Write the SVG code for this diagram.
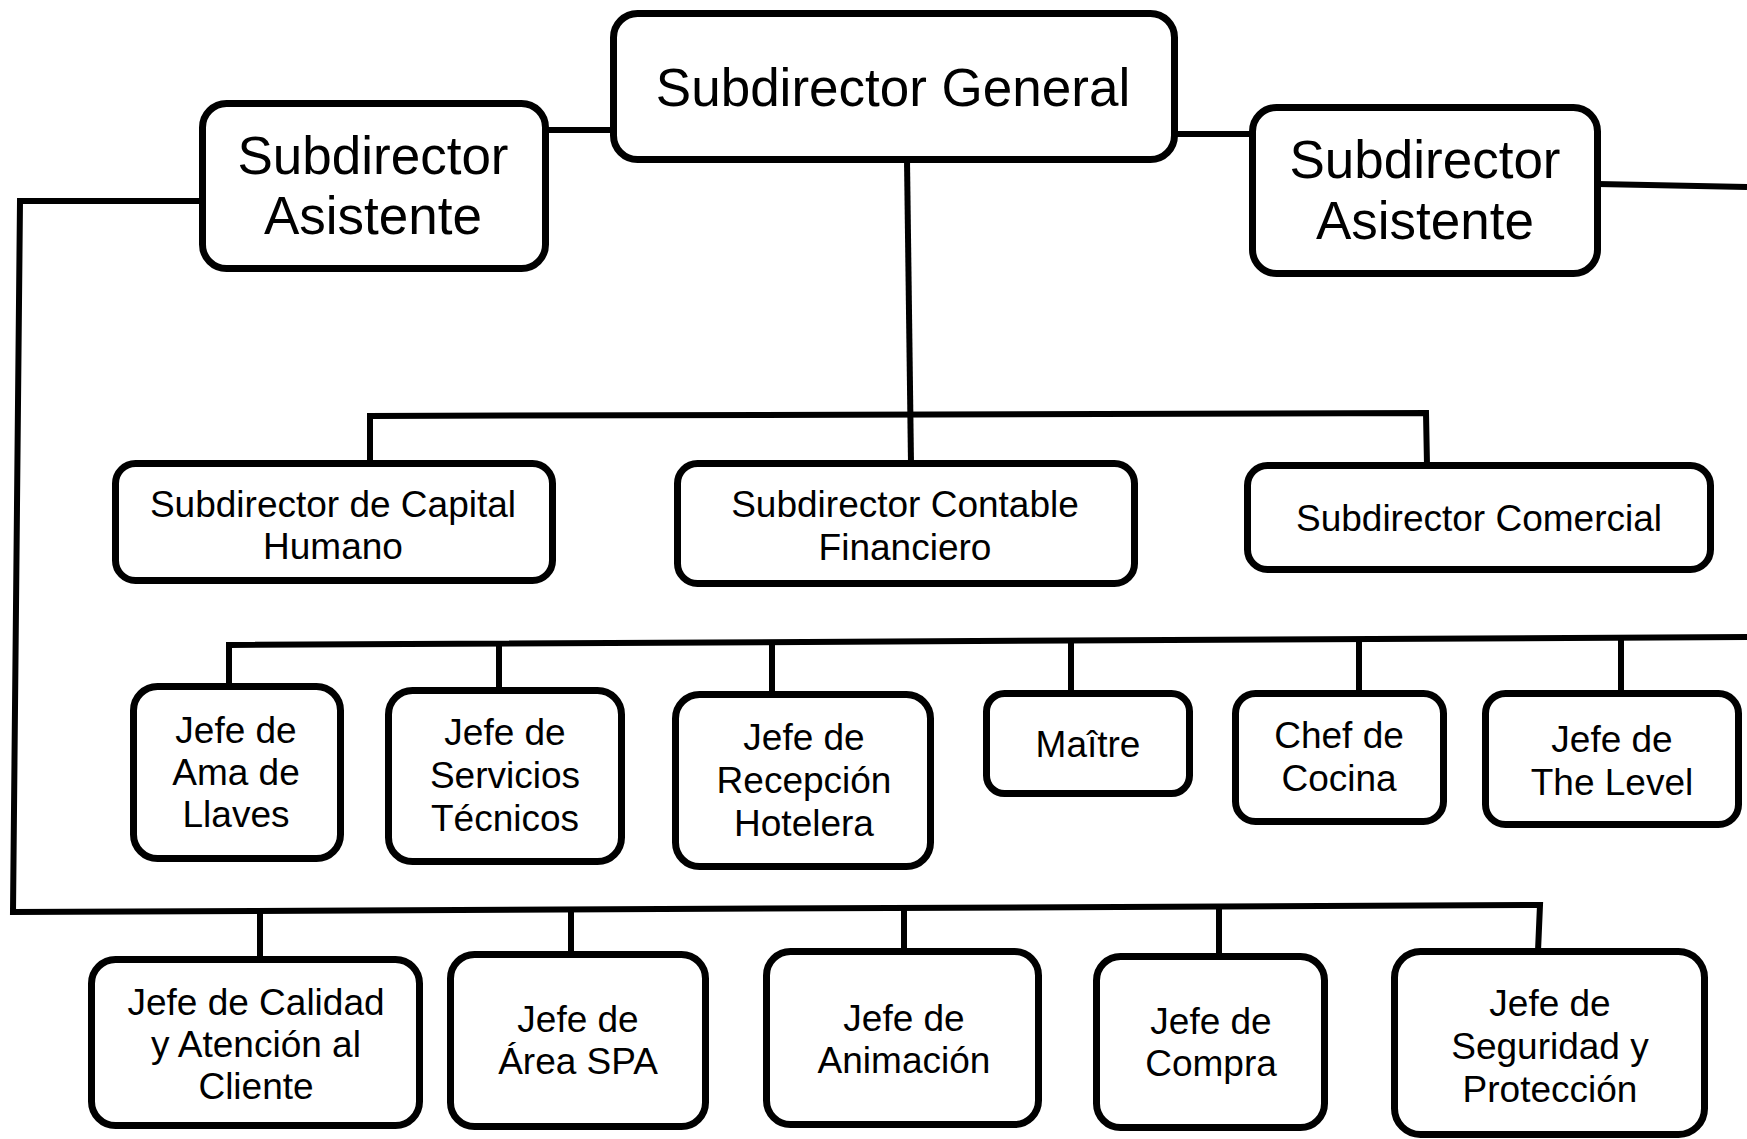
<svg xmlns="http://www.w3.org/2000/svg" width="1747" height="1139" viewBox="0 0 1747 1139">
<style>
.box{fill:#fff;stroke:#000;stroke-width:7}
.ln{fill:none;stroke:#000;stroke-width:6;stroke-linejoin:miter}
text{font-family:"Liberation Sans",Arial,sans-serif;fill:#000;text-anchor:middle}
.big{font-size:53px}
.sm{font-size:37px}
</style>
<rect width="1747" height="1139" fill="#fff"/>
<g id="connectors">
<line class="ln" x1="546" y1="130" x2="613" y2="130"/>
<line class="ln" x1="1175" y1="134" x2="1252" y2="134"/>
<line class="ln" x1="1598" y1="184" x2="1747" y2="187"/>
<polyline class="ln" points="202,201 20,201 13,912 1540,905 1538,951"/>
<line class="ln" x1="260" y1="911" x2="260" y2="959"/>
<line class="ln" x1="571" y1="910" x2="571" y2="954"/>
<line class="ln" x1="904" y1="908" x2="904" y2="951"/>
<line class="ln" x1="1219" y1="907" x2="1219" y2="956"/>
<line class="ln" x1="907" y1="160" x2="911" y2="463"/>
<polyline class="ln" points="370,463 370,416 1426,413 1427,465"/>
<polyline class="ln" points="229,686 229,645 1747,637"/>
<line class="ln" x1="499" y1="644" x2="499" y2="690"/>
<line class="ln" x1="772" y1="642" x2="772" y2="694"/>
<line class="ln" x1="1071" y1="641" x2="1071" y2="693"/>
<line class="ln" x1="1359" y1="639" x2="1359" y2="693"/>
<line class="ln" x1="1621" y1="638" x2="1621" y2="693"/>
</g>
<g id="asistente-izq">
<rect class="box" x="202.5" y="103.5" width="343" height="165" rx="24"/>
<text class="big" x="373" y="174" font-size="52">Subdirector</text>
<text class="big" x="373" y="234" font-size="52">Asistente</text>
</g>
<g id="subdirector-general">
<rect class="box" x="613.5" y="13.5" width="561" height="146" rx="24"/>
<text class="big" x="893" y="106">Subdirector General</text>
</g>
<g id="asistente-der">
<rect class="box" x="1252.5" y="107.5" width="345" height="166" rx="24"/>
<text class="big" x="1425" y="178" font-size="52">Subdirector</text>
<text class="big" x="1425" y="239" font-size="52">Asistente</text>
</g>
<g id="capital-humano">
<rect class="box" x="115.5" y="463.5" width="437" height="117" rx="20"/>
<text class="sm" x="333" y="517">Subdirector de Capital</text>
<text class="sm" x="333" y="559">Humano</text>
</g>
<g id="contable-financiero">
<rect class="box" x="677.5" y="463.5" width="457" height="120" rx="20"/>
<text class="sm" x="905" y="517">Subdirector Contable</text>
<text class="sm" x="905" y="560">Financiero</text>
</g>
<g id="comercial">
<rect class="box" x="1247.5" y="465.5" width="463" height="104" rx="20"/>
<text class="sm" x="1479" y="531">Subdirector Comercial</text>
</g>
<g id="ama-de-llaves">
<rect class="box" x="133.5" y="686.5" width="207" height="172" rx="24"/>
<text class="sm" x="236" y="743">Jefe de</text>
<text class="sm" x="236" y="785">Ama de</text>
<text class="sm" x="236" y="827">Llaves</text>
</g>
<g id="servicios-tecnicos">
<rect class="box" x="388.5" y="690.5" width="233" height="171" rx="24"/>
<text class="sm" x="505" y="745">Jefe de</text>
<text class="sm" x="505" y="788">Servicios</text>
<text class="sm" x="505" y="831">Técnicos</text>
</g>
<g id="recepcion-hotelera">
<rect class="box" x="675.5" y="694.5" width="255" height="172" rx="24"/>
<text class="sm" x="804" y="750">Jefe de</text>
<text class="sm" x="804" y="793">Recepción</text>
<text class="sm" x="804" y="836">Hotelera</text>
</g>
<g id="maitre">
<rect class="box" x="986.5" y="693.5" width="203" height="100" rx="18"/>
<text class="sm" x="1088" y="757">Maître</text>
</g>
<g id="chef-cocina">
<rect class="box" x="1235.5" y="693.5" width="208" height="128" rx="20"/>
<text class="sm" x="1339" y="748">Chef de</text>
<text class="sm" x="1339" y="791">Cocina</text>
</g>
<g id="the-level">
<rect class="box" x="1485.5" y="693.5" width="253" height="131" rx="20"/>
<text class="sm" x="1612" y="752">Jefe de</text>
<text class="sm" x="1612" y="795">The Level</text>
</g>
<g id="calidad">
<rect class="box" x="91.5" y="959.5" width="328" height="166" rx="24"/>
<text class="sm" x="256" y="1015">Jefe de Calidad</text>
<text class="sm" x="256" y="1057">y Atención al</text>
<text class="sm" x="256" y="1099">Cliente</text>
</g>
<g id="area-spa">
<rect class="box" x="450.5" y="954.5" width="255" height="172" rx="24"/>
<text class="sm" x="578" y="1032">Jefe de</text>
<text class="sm" x="578" y="1074">Área SPA</text>
</g>
<g id="animacion">
<rect class="box" x="766.5" y="951.5" width="272" height="173" rx="24"/>
<text class="sm" x="904" y="1031">Jefe de</text>
<text class="sm" x="904" y="1073">Animación</text>
</g>
<g id="compra">
<rect class="box" x="1096.5" y="956.5" width="228" height="171" rx="24"/>
<text class="sm" x="1211" y="1034">Jefe de</text>
<text class="sm" x="1211" y="1076">Compra</text>
</g>
<g id="seguridad">
<rect class="box" x="1394.5" y="951.5" width="310" height="183" rx="26"/>
<text class="sm" x="1550" y="1016">Jefe de</text>
<text class="sm" x="1550" y="1059">Seguridad y</text>
<text class="sm" x="1550" y="1102">Protección</text>
</g>
</svg>
